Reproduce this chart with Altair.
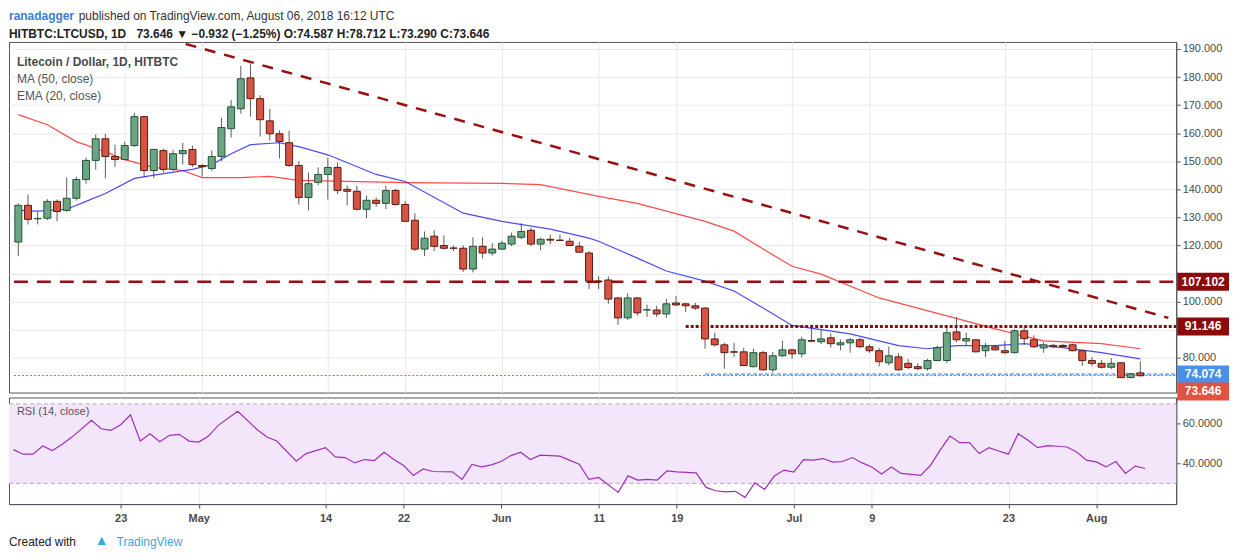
import altair as alt
import pandas as pd

# ---------------- data ----------------
opens = [121.2,134.3,129.5,129.7,135.7,132.5,136.8,143.5,150.3,158.0,151.7,150.6,155.6,165.9,146.7,153.8,147.1,152.7,154.2,148.5,
         147.4,151.7,161.6,168.7,179.7,172.3,164.4,159.8,156.6,148.5,137.1,142.5,145.3,147.8,140.0,139.3,132.9,136.1,135.0,139.6,
         134.6,129.0,118.7,123.3,120.0,119.1,119.0,111.6,119.7,117.3,118.7,120.5,122.9,125.4,120.5,122.2,121.9,121.5,119.7,117.3,
         107.3,107.7,101.3,94.2,101.3,97.0,97.0,95.6,99.5,99.2,98.5,97.7,86.7,84.6,82.1,82.1,76.8,81.8,75.7,80.7,
         82.8,81.4,86.1,85.7,87.1,84.6,85.3,86.4,83.9,82.5,78.2,80.3,78.0,76.8,76.1,79.0,79.0,89.2,86.0,86.4,
         82.5,83.9,82.5,81.8,89.6,86.4,83.5,84.4,84.4,84.6,82.5,79.0,78.0,76.6,78.2,72.9,74.6]
closes = [134.3,129.3,129.6,135.7,132.1,136.8,143.5,150.3,158.0,151.7,150.6,155.6,165.9,146.7,154.2,147.1,152.7,153.8,148.8,148.1,
          151.7,162.0,169.4,179.4,172.3,164.8,159.8,157.0,148.5,137.1,142.0,145.3,147.8,139.6,139.3,132.9,136.1,135.0,139.6,134.6,
          128.6,118.7,122.6,119.7,119.0,119.0,111.6,119.7,117.3,118.7,120.8,123.3,125.0,120.5,122.2,121.9,121.8,120.0,117.6,107.3,
          107.2,100.9,94.2,101.3,96.0,97.1,95.6,99.2,98.8,98.5,97.7,86.7,84.6,81.8,82.0,77.2,81.8,75.7,80.7,82.8,
          81.4,86.4,85.9,86.7,85.0,85.3,86.4,83.9,82.5,78.6,80.7,75.7,76.5,76.1,79.0,83.6,88.9,86.4,86.8,82.1,
          83.9,82.8,81.8,89.6,86.8,83.9,84.6,83.9,84.0,82.5,79.0,78.0,76.6,78.0,72.9,74.3,73.6]
highs = [135.0,138.2,132.0,136.5,136.4,144.2,144.5,151.3,159.5,159.8,155.9,157.0,167.3,166.0,154.5,154.5,154.0,156.6,155.6,148.9,
         153.8,165.5,171.9,184.0,184.7,173.5,168.7,161.0,160.9,150.0,146.0,147.8,151.3,149.5,141.4,141.3,137.8,137.0,141.3,140.2,
         135.9,131.5,125.0,125.4,123.6,120.0,120.0,122.9,122.9,120.8,121.7,124.6,127.9,126.3,122.8,123.9,123.9,122.7,121.2,118.0,
         109.0,109.0,101.5,103.0,101.5,98.9,98.5,101.0,102.0,99.6,99.5,97.9,88.9,85.3,85.3,83.6,83.2,82.5,82.0,86.0,
         83.0,87.5,91.0,90.0,88.7,86.5,87.1,87.1,84.8,83.6,84.0,81.6,79.5,78.0,79.6,84.3,91.3,94.5,88.9,86.4,
         85.3,84.6,86.0,90.2,91.2,88.0,85.5,85.0,84.8,85.0,82.8,80.2,79.2,79.8,78.3,74.6,78.7]
lows = [116.2,127.5,127.5,129.0,128.6,132.0,136.0,142.0,147.0,143.9,148.0,150.6,155.0,144.2,144.0,146.0,146.5,148.8,148.0,144.6,
        146.6,150.0,158.4,167.0,165.9,158.8,157.4,151.0,148.0,134.6,132.5,141.5,136.4,138.3,134.3,132.5,129.7,133.8,133.0,134.3,
        128.6,118.0,116.2,118.0,118.6,118.0,110.6,110.4,115.4,116.4,118.4,119.8,122.2,119.8,118.3,120.5,121.6,120.0,117.6,104.5,
        104.5,99.2,91.7,93.5,95.0,94.5,94.5,94.1,98.5,96.3,97.1,83.2,84.0,76.1,80.3,77.0,76.6,75.4,74.8,80.2,
        79.7,80.1,85.6,84.9,83.6,82.6,81.8,83.6,81.8,76.9,77.3,75.4,75.9,75.6,75.4,78.7,78.1,85.5,84.3,82.0,
        80.2,82.6,81.5,81.5,84.6,83.5,81.8,83.5,83.6,82.3,77.1,76.9,76.2,75.9,72.8,72.8,73.3]

ma50_day = [0,3,6,9,11,14,17,19,23,26,29,34,40,50,54,59,60,64,71,74,77,80,83,89,96,101,106,112,116]
ma50_val = [166.6,163.0,157.0,153.4,150.6,147.8,146.7,144.2,144.2,144.6,143.2,142.8,142.4,142.1,141.7,138.2,137.5,135.0,
            128.6,125.1,118.7,112.6,109.8,101.3,94.9,90.3,86.0,85.0,83.2]
ema20_day = [0,2,5,7,9,12,15,18,20,22,24,27,29,32,37,40,46,50,55,59,60,64,67,71,74,77,80,86,91,94,97,101,104,108,112,116]
ema20_val = [132.5,132.2,132.9,135.7,138.5,143.9,145.6,147.1,148.8,152.7,155.9,156.6,155.2,152.3,145.3,142.8,131.5,128.6,
             125.8,122.6,121.5,115.5,110.9,107.3,103.8,97.7,91.5,88.5,84.3,83.2,84.3,84.3,85.0,83.6,81.8,79.6]

rsi_day = [0,1,2,3,4,5,6,8,9,10,11,12,13,14,15,16,17,18,19,20,21,23,25,26,27,29,30,32,33,34,35,36,37,38,39,40,41,42,43,45,46,47,
           48,49,50,51,52,53,54,56,57,58,59,60,62,63,64,65,66,67,68,70,71,72,73,74,75,76,77,78,79,80,81,82,83,84,85,86,87,88,89,90,
           91,93,94,95,96,97,98,99,100,101,102,103,104,105,106,107,108,109,110,111,112,113,114,115,116]
rsi_val = [47.0,44.7,44.7,48.8,46.5,49.7,53.3,61.7,57.5,56.7,59.5,64.5,51.3,55.0,51.0,54.2,54.7,51.3,50.8,53.8,59.2,66.3,57.0,
           53.3,51.3,41.2,45.0,48.0,43.3,43.0,40.3,42.0,41.5,45.7,42.0,39.0,34.0,37.3,36.0,35.8,32.0,39.5,38.3,39.3,41.0,44.0,45.7,
           42.0,44.2,43.7,41.7,39.7,32.0,33.0,25.5,33.8,31.7,32.0,31.7,36.3,35.8,35.3,28.0,26.3,25.7,26.0,23.0,30.3,27.0,33.7,36.7,
           35.7,42.0,41.7,42.5,40.7,41.0,43.0,40.3,38.3,34.7,38.3,35.0,34.0,39.0,46.7,53.8,50.5,50.5,45.0,48.0,46.3,44.7,55.0,51.7,
           48.0,49.0,48.7,48.3,45.8,41.7,40.8,38.3,41.0,35.0,38.7,37.5]

tick_days = [11,19,32,40,50,60,68,80,88,102,111]
tick_labels = ["23","May","14","22","Jun","11","19","Jul","9","23","Aug"]
price_ticks = [80, 90, 100, 110, 120, 130, 140, 150, 160, 170, 180, 190]
hidden_price_labels = [90, 110]  # covered by the level boxes in the reference

trend_day = [17.3, 118.9]
trend_price = [191.8, 94.2]
level_names = ["res", "sup91", "sup74", "last"]
level_prices = [107.102, 91.146, 74.074, 73.646]
level_start = [-0.45, 69.0, 71.0, -0.45]
level_colors = ["#8b0a0a", "#8b0a0a", "#4a8fe8", "#e0533f"]

# ---------------- frames ----------------
candles = pd.DataFrame({"i": range(len(opens)), "o": opens, "c": closes, "h": highs, "l": lows})
candles["up"] = candles["c"] >= candles["o"]
ma50 = pd.DataFrame({"i": ma50_day, "v": ma50_val})
ema20 = pd.DataFrame({"i": ema20_day, "v": ema20_val})
rsi = pd.DataFrame({"i": rsi_day, "v": rsi_val})
trend = pd.DataFrame({"i": trend_day[:1], "p": trend_price[:1], "i2": trend_day[1:], "p2": trend_price[1:]})
levels = pd.DataFrame({"name": level_names, "p": level_prices, "start": level_start, "col": level_colors,
                       "lab": [f"{v:.3f}" for v in level_prices]})

W, H1, H2 = 1172, 352, 107
FONT = "Liberation Sans"
XSC = alt.Scale(domain=[-0.45, 119.2], nice=False, zero=False)
PSCALE = alt.Scale(domain=[67.6, 192.5], nice=False, zero=False)

grid_x_axis = alt.Axis(values=tick_days, labels=False, ticks=False, domain=False, grid=True,
                       gridColor="#e9e9ea", title=None, minExtent=0, maxExtent=0, offset=0)
hide_expr = " || ".join(f"datum.value == {v}" for v in hidden_price_labels)
price_axis = alt.Axis(orient="right", values=price_ticks, format=".3f", title=None,
                      labelExpr=f"({hide_expr}) ? '' : format(datum.value, '.3f')",
                      grid=True, gridColor="#e9e9ea", labelColor="#4a4a4a", labelFontSize=11, labelOverlap=False,
                      tickColor="#555", tickSize=4, domainColor="#50535e", labelFont=FONT)


def X(field="i"):
    return alt.X(field, type="quantitative", scale=XSC, axis=grid_x_axis)


def PY(field):
    return alt.Y(field, type="quantitative", scale=PSCALE, axis=price_axis)


base_c = alt.Chart(candles)
wicks = base_c.mark_rule(color="#5d5d5d", strokeWidth=1).encode(x=X("i"), y=PY("l"), y2="h")
bodies = base_c.mark_bar(size=7, strokeWidth=1).encode(
    x=X(), y=PY("o"), y2="c",
    fill=alt.condition("datum.up", alt.value("#6ba583"), alt.value("#d75442")),
    stroke=alt.condition("datum.up", alt.value("#225437"), alt.value("#5b1a13")),
)
ma_line = alt.Chart(ma50).mark_line(color="#ff2a2a", strokeWidth=1.2, opacity=0.85).encode(x=X(), y=PY("v"))
ema_line = alt.Chart(ema20).mark_line(color="#2b2bff", strokeWidth=1.2, opacity=0.85).encode(x=X(), y=PY("v"))
trend_line = alt.Chart(trend).mark_rule(color="#9b0f0f", strokeWidth=2.5, strokeDash=[11, 9]).encode(
    x=X("i"), y=PY("p"), x2="i2", y2="p2")

lv = alt.Chart(levels)
res_line = lv.transform_filter("datum.name=='res'").mark_rule(color="#9b0f0f", strokeWidth=2.5, strokeDash=[14, 9]).encode(
    x=X("start"), x2=alt.value(W), y=PY("p"))
s91 = lv.transform_filter("datum.name=='sup91'").mark_rule(color="#8b0a0a", strokeWidth=3, strokeDash=[3, 2]).encode(
    x=X("start"), x2=alt.value(W), y=PY("p"))
s74 = lv.transform_filter("datum.name=='sup74'").mark_rule(color="#7fb2f0", strokeWidth=2, strokeDash=[4, 2]).encode(
    x=X("start"), x2=alt.value(W), y=PY("p"))
last = lv.transform_filter("datum.name=='last'").mark_rule(color="#e0533f", strokeWidth=1, strokeDash=[2, 2]).encode(
    x=X("start"), x2=alt.value(W), y=PY("p"))


def label_layers(flt, dy):
    sub = lv.transform_filter(flt)
    b = sub.mark_tick(thickness=18, size=52, opacity=1, yOffset=dy).encode(
        x=alt.value(W + 27), y=PY("p"), color=alt.Color("col:N", scale=None))
    t = sub.mark_text(color="white", fontSize=12, font=FONT, fontWeight="bold", yOffset=dy).encode(
        x=alt.value(W + 27), y=PY("p"), text="lab:N")
    return [b, t]


labs = label_layers("datum.name!='last'", 0) + label_layers("datum.name=='last'", 16)

hdr = pd.DataFrame({"t": ["x"]})


def txt(x, y, s, size=12, color="#333", weight="normal"):
    return alt.Chart(hdr).mark_text(align="left", fontSize=size, font=FONT, color=color, fontWeight=weight).encode(
        x=alt.value(x), y=alt.value(y), text=alt.value(s))


h1a = txt(0, -26, "ranadagger", color="#3b7dd8", weight="bold")
h1b = txt(70, -26, "published on TradingView.com, August 06, 2018 16:12 UTC")
h2a = txt(0, -8, "HITBTC:LTCUSD, 1D", color="#222", weight="bold")
h2b = txt(128, -8, "73.646 \u25bc \u22120.932 (\u22121.25%)  O:74.587  H:78.712  L:73.290  C:73.646",
          color="#222", weight="bold")
leg1 = txt(8, 20, "Litecoin / Dollar, 1D, HITBTC", color="#4a4a4a", weight="bold")
leg2 = txt(8, 37, "MA (50, close)", color="#555")
leg3 = txt(8, 54, "EMA (20, close)", color="#555")

price = alt.layer(wicks, ma_line, ema_line, trend_line, res_line, s91, s74, last, bodies, *labs,
                  h1a, h1b, h2a, h2b, leg1, leg2, leg3).properties(width=W, height=H1)

# ---------------- RSI panel ----------------
label_expr = " : ".join(f"datum.value == {d} ? '{t}'" for d, t in zip(tick_days, tick_labels)) + " : ''"
date_axis = alt.Axis(values=tick_days, labelExpr=label_expr, grid=True, gridColor="#e9e9ea", title=None,
                     labelColor="#4a4a4a", labelFontSize=11, labelFontWeight="bold", labelFont=FONT,
                     tickSize=4, tickColor="#555", domainColor="#50535e", labelPadding=4)
RSC = alt.Scale(domain=[19.6, 73.2], nice=False, zero=False)
rsi_axis = alt.Axis(orient="right", values=[40, 60], format=".4f", title=None, grid=True, gridColor="#dcc9e6",
                    labelColor="#4a4a4a", labelFontSize=11, labelFont=FONT, tickSize=4, tickColor="#555",
                    domainColor="#50535e")
band = alt.Chart(hdr).mark_rect(color="#f3e6fb").encode(
    x=alt.value(0), x2=alt.value(W), y=alt.datum(70, scale=RSC), y2=alt.datum(30))
b70 = alt.Chart(hdr).mark_rule(color="#b8a7c0", strokeDash=[4, 3]).encode(
    x=alt.value(0), x2=alt.value(W), y=alt.datum(70, scale=RSC))
b30 = alt.Chart(hdr).mark_rule(color="#b8a7c0", strokeDash=[4, 3]).encode(
    x=alt.value(0), x2=alt.value(W), y=alt.datum(30, scale=RSC))
rsi_line = alt.Chart(rsi).mark_line(color="#a02fb8", strokeWidth=1.2).encode(
    x=alt.X("i", type="quantitative", scale=XSC, axis=date_axis),
    y=alt.Y("v", type="quantitative", scale=RSC, axis=rsi_axis))
rsi_lab = txt(8, 15, "RSI (14, close)", size=11, color="#555")
foot1 = txt(0, 145, "Created with", color="#222")
foot_icon = txt(86, 144, "\u25b2", size=14, color="#3aa7e0")
foot2 = txt(108, 145, "TradingView", color="#3aa7e0")

rsi_chart = alt.layer(band, b70, b30, rsi_line, rsi_lab, foot1, foot_icon, foot2).properties(width=W, height=H2)

chart = alt.vconcat(price, rsi_chart, spacing=5, bounds="flush").properties(
    padding={"left": 0, "top": 0, "right": 2, "bottom": 0}, background="white"
).configure_view(stroke="#50535e", strokeWidth=1).resolve_scale(x="independent")

chart.save("out.html", embed_options={"renderer": "svg", "actions": False})
